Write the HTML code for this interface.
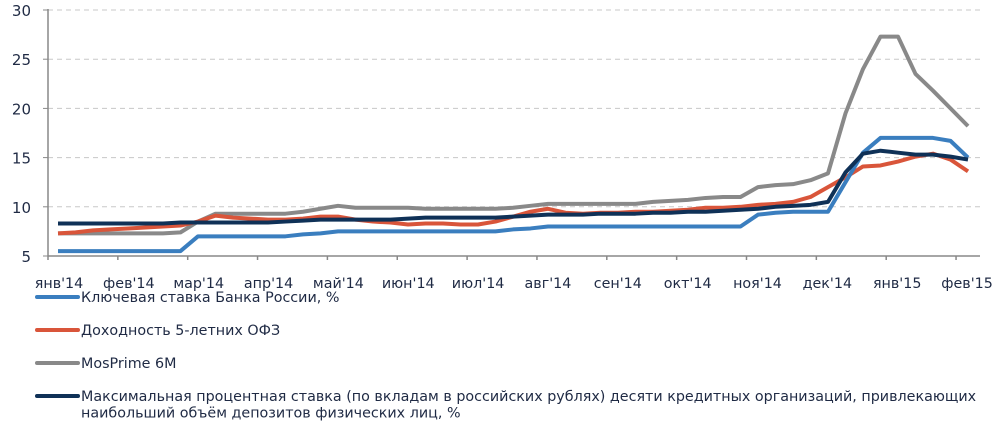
<!DOCTYPE html>
<html><head><meta charset="utf-8"><style>
html,body{margin:0;padding:0;background:#fff;}
svg{display:block;font-family:"DejaVu Sans","Liberation Sans",sans-serif;}
</style></head><body>
<svg width="1000" height="423" viewBox="0 0 1000 423">
<g id="grid"></g><g id="axes"></g><g id="series"></g><g id="legend"></g>
</svg>
<script>
const yTicks=[5,10,15,20,25,30];
const monthLabels=["янв'14","фев'14","мар'14","апр'14","май'14","июн'14","июл'14","авг'14","сен'14","окт'14","ноя'14","дек'14","янв'15","фев'15"];
const keyRate=[5.5,5.5,5.5,5.5,5.5,5.5,5.5,5.5,7,7,7,7,7,7,7.2,7.3,7.5,7.5,7.5,7.5,7.5,7.5,7.5,7.5,7.5,7.5,7.7,7.8,8,8,8,8,8,8,8,8,8,8,8,8,9.2,9.4,9.5,9.5,9.5,12.5,15.5,17,17,17,17,16.7,15];
const ofz5=[7.3,7.4,7.6,7.7,7.8,7.9,8.0,8.1,8.5,9.1,8.9,8.8,8.7,8.7,8.8,9.0,9.0,8.7,8.5,8.4,8.2,8.3,8.3,8.2,8.2,8.5,9.0,9.5,9.8,9.4,9.3,9.4,9.4,9.5,9.5,9.6,9.7,9.9,9.9,10.0,10.2,10.3,10.5,11.0,12.0,13.0,14.1,14.2,14.6,15.1,15.4,14.8,13.6];
const mosprime=[7.3,7.3,7.3,7.3,7.3,7.3,7.3,7.4,8.5,9.3,9.3,9.3,9.3,9.3,9.5,9.8,10.1,9.9,9.9,9.9,9.9,9.8,9.8,9.8,9.8,9.8,9.9,10.1,10.3,10.3,10.3,10.3,10.3,10.3,10.5,10.6,10.7,10.9,11.0,11.0,12.0,12.2,12.3,12.7,13.4,19.5,24.0,27.3,27.3,23.5,21.8,20.0,18.2];
const maxDeposit=[8.3,8.3,8.3,8.3,8.3,8.3,8.3,8.4,8.4,8.4,8.4,8.4,8.4,8.5,8.6,8.7,8.7,8.7,8.7,8.7,8.8,8.9,8.9,8.9,8.9,8.9,9.0,9.1,9.2,9.2,9.2,9.3,9.3,9.3,9.4,9.4,9.5,9.5,9.6,9.7,9.8,10.0,10.1,10.2,10.5,13.5,15.4,15.7,15.5,15.3,15.3,15.1,14.8];
const NS="http://www.w3.org/2000/svg";
const X0=58,DX=17.5,TX0=48,TDX=69.85;
const yScale=v=>256-(v-5)*9.84;
const xScale=i=>X0+i*DX;
function mk(t,a,p){const e=document.createElementNS(NS,t);for(const k in a)e.setAttribute(k,a[k]);p.appendChild(e);return e;}
const grid=document.getElementById('grid'),axes=document.getElementById('axes'),ser=document.getElementById('series'),leg=document.getElementById('legend');
yTicks.forEach(v=>{
 const y=yScale(v);
 if(v>5){const g=mk('line',{x1:48,x2:980,y1:y,y2:y,stroke:'#c8c8c8','stroke-width':1,'stroke-dasharray':'5,4'},grid);
 
 }
 const t=mk('text',{x:31,y:y+6,'text-anchor':'end','font-size':15,fill:'#1f2a44'},axes);t.textContent=v;
 
 
 mk('line',{x1:43,x2:48,y1:y,y2:y,stroke:'#888','stroke-width':1},axes);
});
const ya=mk('line',{x1:48,x2:48,y1:9,y2:256,stroke:'#888','stroke-width':1.5},axes);


const xa=mk('line',{x1:48,x2:980,y1:256,y2:256,stroke:'#888','stroke-width':1.5},axes);


monthLabels.forEach((m,i)=>{
 const x=TX0+i*TDX;
 mk('line',{x1:x,x2:x,y1:256,y2:260,stroke:'#888','stroke-width':1.5},axes);
 const t=mk('text',{x:x+11,y:288,'text-anchor':'middle','font-size':14.3,fill:'#1f2a44'},axes);t.textContent=m;
 
 
});
const seriesList=[
 {d:mosprime,c:'#898989',n:'mosprime-line'},
 {d:ofz5,c:'#d9553a',n:'ofz-yield-line'},
 {d:keyRate,c:'#3a7ebf',n:'key-rate-line'},
 {d:maxDeposit,c:'#0f3157',n:'max-deposit-rate-line'}];
seriesList.forEach(s=>{
 const p=mk('polyline',{points:s.d.map((v,i)=>xScale(i)+','+yScale(v)).join(' '),fill:'none',stroke:s.c,'stroke-width':4,'stroke-linejoin':'round'},ser);
 
 
});
const legItems=[
 {c:'#3a7ebf',t:['Ключевая ставка Банка России, %'],y:297},
 {c:'#d9553a',t:['Доходность 5-летних ОФЗ'],y:330},
 {c:'#898989',t:['MosPrime 6M'],y:363},
 {c:'#0f3157',t:['Максимальная процентная ставка (по вкладам в российских рублях) десяти кредитных организаций, привлекающих','наибольший объём депозитов физических лиц, %'],y:396}];
legItems.forEach((l,k)=>{
 const g=mk('g',{},leg);
 
 
 mk('line',{x1:37,x2:78,y1:l.y,y2:l.y,stroke:l.c,'stroke-width':4,'stroke-linecap':'round'},g);
 l.t.forEach((s,j)=>{const t=mk('text',{x:81,y:l.y+5+j*16.5,'font-size':14.3,fill:'#1f2a44'},g);t.textContent=s;});
});
</script>
</body></html>
